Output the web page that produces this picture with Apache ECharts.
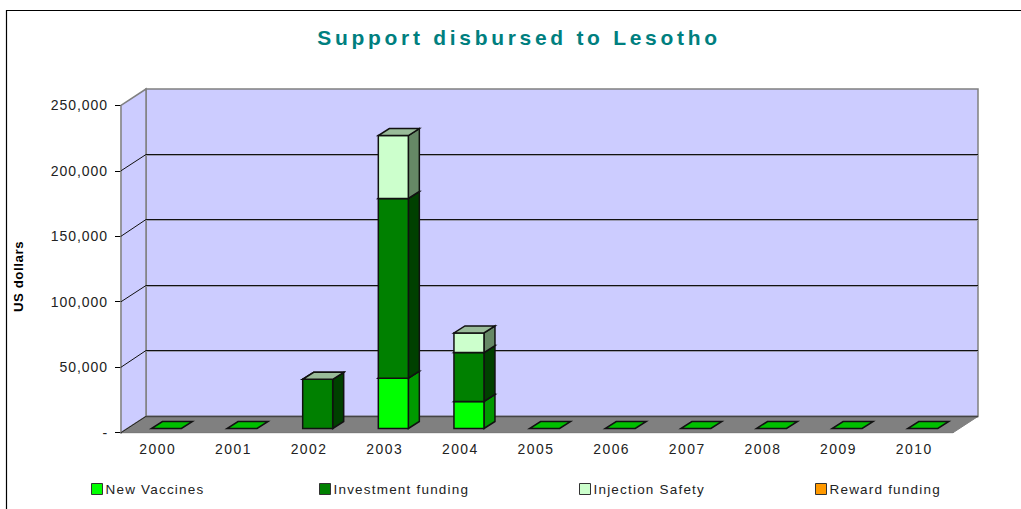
<!DOCTYPE html>
<html><head><meta charset="utf-8">
<style>
html,body{margin:0;padding:0;background:#fff}
#c{width:1021px;height:509px}
svg text[style*="21px"]{letter-spacing:3.7px}
svg text[style*="14px"]{letter-spacing:.95px}
svg text[style*="13.9px"]{letter-spacing:1.5px}
svg text[style*="13.5px"]{letter-spacing:1.2px}
svg text[style*="13.2px"]{letter-spacing:.6px}
</style>
<script src="https://cdn.jsdelivr.net/npm/echarts@6/dist/echarts.min.js"></script>
</head><body><div id="c"></div>
<script>
const years = ['2000','2001','2002','2003','2004','2005','2006','2007','2008','2009','2010'];
const yTicks = [0,50000,100000,150000,200000,250000];
const newVaccines = [0,0,null,38400,20700,0,0,0,0,0,0];
const investmentFunding = [null,null,37600,137300,37300,null,null,null,null,null,null];
const injectionSafety = [null,null,0,48000,15000,null,null,null,null,null,null];
const rewardFunding = [null,null,null,null,null,null,null,null,null,null,null];
const seriesNames = ['New Vaccines','Investment funding','Injection Safety','Reward funding'];
const seriesValues = [newVaccines,investmentFunding,injectionSafety,rewardFunding];
const frontColors = ['#00ff00','#008000','#ccffcc','#ff9900'];
const sideColors = ['#009900','#004000','#668866','#995c00'];
const topColors = ['#00bf00','#006000','#99bb99','#bf7300'];
const legendLeft = [91,319,579,815];

const DX=25, DY=-16.3;          // depth of the 3D box
const BAR_W=30/75.6, BAR_DX=7.6, BAR_DY=-4.2, SIDE_DX=11, SIDE_DY=-7;

function poly(points,fill,stroke,lw){
  return {type:'polygon',shape:{points},style:{fill,stroke:stroke||'none',lineWidth:lw||0}};
}
function renderWalls(params,api){
  const c=params.coordSys, l=c.x, t=c.y, r=c.x+c.width, b=c.y+c.height;
  return {type:'group',children:[
    poly([[l+DX,t+DY],[r+DX,t+DY],[r+DX,b+DY],[l+DX,b+DY]],'#ccccff','#808080',1.5),
    poly([[l,t],[l+DX,t+DY],[l+DX,b+DY],[l,b]],'#ccccff','#808080',1.5),
    poly([[l,b],[l+DX,b+DY],[r+DX,b+DY],[r,b]],'#808080','#808080',1),
    {type:'line',shape:{x1:l+DX,y1:b+DY,x2:r+DX,y2:b+DY},style:{stroke:'#444',lineWidth:1.5}},
    {type:'line',shape:{x1:l,y1:b,x2:l+DX,y2:b+DY},style:{stroke:'#222',lineWidth:1}}
  ]};
}
function renderGrid(params,api){
  const p=api.coord([0,api.value(1)]), c=params.coordSys, l=c.x, r=c.x+c.width, y=p[1];
  const wy=Math.floor(y+DY)+0.5;
  return {type:'group',children:[
    {type:'line',shape:{x1:l+DX,y1:wy+1,x2:r+DX,y2:wy+1},style:{stroke:'#9a9ab0',lineWidth:1}},
    {type:'polyline',shape:{points:[[l,y],[l+DX,wy],[r+DX,wy]]},style:{stroke:'#111',lineWidth:1,fill:'none'}}
  ]};
}
function boxRenderer(k){
  return function(params,api){
    const i=api.value(0), a=api.coord([i,api.value(1)]), z=api.coord([i,api.value(2)]);
    const w=api.size([1,0])[0]*BAR_W;
    const x0=a[0]-w/2+BAR_DX, x1=x0+w, yb=a[1]+BAR_DY, yt=z[1]+BAR_DY;
    const stroke='#111', lw=1.5;
    const kids=[];
    if(yb-yt>0.01){
      kids.push(poly([[x1,yb],[x1+SIDE_DX,yb+SIDE_DY],[x1+SIDE_DX,yt+SIDE_DY],[x1,yt]],sideColors[k],stroke,lw));
      kids.push(poly([[x0,yb],[x1,yb],[x1,yt],[x0,yt]],frontColors[k],stroke,lw));
    }
    kids.push(poly([[x0,yt],[x1,yt],[x1+SIDE_DX,yt+SIDE_DY],[x0+SIDE_DX,yt+SIDE_DY]],topColors[k],stroke,lw));
    return {type:'group',children:kids};
  };
}
const base=years.map(()=>0);
const barSeries=seriesNames.map((name,k)=>{
  const data=[];
  seriesValues[k].forEach((v,i)=>{
    if(v===null) return;
    data.push([i,base[i],base[i]+v]);
    base[i]+=v;
  });
  return {name,type:'custom',z:5+k,silent:true,animation:false,clip:false,
    itemStyle:{color:frontColors[k]},
    encode:{x:0,y:[1,2]},data,renderItem:boxRenderer(k)};
});
const chart=echarts.init(document.getElementById('c'),null,{renderer:'svg',width:1021,height:509});
chart.setOption({
  animation:false,backgroundColor:'#fff',
  title:{text:'Support disbursed to Lesotho',left:514,top:22,textAlign:'center',
    textStyle:{fontFamily:'Liberation Sans',fontSize:21,fontWeight:'bold',color:'#007f7f'}},
  graphic:[{type:'rect',z:0,silent:true,shape:{x:6.5,y:10.5,width:1040,height:530},style:{fill:'none',stroke:'#000',lineWidth:1.2}}],
  grid:{left:121,top:105.3,width:832,height:327.4,containLabel:false,outerBoundsMode:'none'},
  xAxis:{type:'category',data:years,boundaryGap:true,
    axisLine:{lineStyle:{color:'#000',width:1.2}},axisTick:{length:6,alignWithLabel:false,lineStyle:{color:'#000'}},
    axisLabel:{interval:0,margin:9,color:'#222',fontFamily:'Liberation Sans',fontSize:13.9,padding:[0,2,0,0]},splitLine:{show:false}},
  yAxis:{type:'value',min:0,max:250000,interval:50000,
    name:'US dollars',nameLocation:'middle',nameGap:96,nameRotate:90,
    nameTextStyle:{fontFamily:'Liberation Sans',fontSize:13.2,fontWeight:'bold',color:'#000',padding:[0,15,0,0]},
    axisLine:{show:true,lineStyle:{color:'#000',width:1.2}},axisTick:{show:true,length:6,lineStyle:{color:'#000'}},
    axisLabel:{margin:13,color:'#222',fontFamily:'Liberation Sans',fontSize:14,
      formatter:v=>v===0?'-':v.toLocaleString('en-US')},splitLine:{show:false}},
  legend:seriesNames.map((n,k)=>({data:[n],left:legendLeft[k],top:482,padding:0,icon:'rect',itemWidth:11,itemHeight:11,
    selectedMode:false,itemStyle:{borderColor:'#333',borderWidth:1},
    textStyle:{fontFamily:'Liberation Sans',fontSize:13.5,color:'#222',padding:[0,0,0,-2]}})),
  series:[
    {type:'custom',name:'walls',z:1,silent:true,animation:false,clip:false,data:[[0,0]],renderItem:renderWalls},
    {type:'custom',name:'grid',z:2,silent:true,animation:false,clip:false,encode:{x:0,y:1},
      data:yTicks.filter(v=>v>0&&v<250000).map(v=>[0,v]),renderItem:renderGrid},
    ...barSeries
  ]
});
</script></body></html>
